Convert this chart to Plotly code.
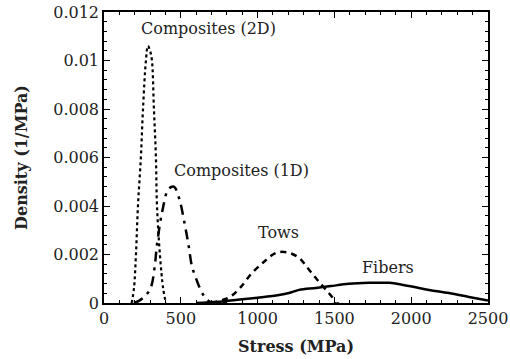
import plotly.graph_objects as go

# Data
comp2d_x = [180, 195, 208, 221, 240, 254, 273, 286, 300, 312, 325, 338, 345, 364, 385, 403]
comp2d_y = [0, 0.0006, 0.002, 0.004, 0.006, 0.008, 0.010, 0.0106, 0.0104, 0.010, 0.008, 0.006, 0.004, 0.002, 0.0006, 0]

comp1d_x = [195, 230, 270, 306, 330, 345, 380, 420, 455, 490, 521, 550, 573, 600, 618, 650, 690, 800]
comp1d_y = [0, 0.0001, 0.0003, 0.00066, 0.0015, 0.0024, 0.0038, 0.0047, 0.0048, 0.0043, 0.0034, 0.0024, 0.0015, 0.0010, 0.0007, 0.0003, 0.00005, 0]

tows_x = [700, 760, 820, 885, 964, 1042, 1100, 1139, 1204, 1270, 1335, 1400, 1465, 1490, 1500, 1550]
tows_y = [0, 0.0001, 0.00025, 0.00062, 0.00124, 0.0017, 0.002, 0.0021, 0.00207, 0.00186, 0.00137, 0.00087, 0.0004, 0.0002, 0.0, 0]

fibers_x = [600, 750, 900, 1000, 1139, 1204, 1270, 1380, 1478, 1595, 1725, 1855, 1986, 2116, 2246, 2376, 2500]
fibers_y = [0, 0.00005, 0.00015, 0.00022, 0.00033, 0.00041, 0.00054, 0.00062, 0.0007, 0.00079, 0.00083, 0.00083, 0.0007, 0.00054, 0.00041, 0.00025, 0.0001]

labels = ["Composites (2D)", "Composites (1D)", "Tows", "Fibers"]
label_x = [683, 892, 1133, 1849]
label_y = [0.01134, 0.00548, 0.00289, 0.00148]

x_ticks = [0, 500, 1000, 1500, 2000, 2500]
y_ticks = [0, 0.002, 0.004, 0.006, 0.008, 0.01, 0.012]
y_ticklabels = ["0", "0.002", "0.004", "0.006", "0.008", "0.01", "0.012"]

FONT = "DejaVu Serif"
TXT = "#222"
fig = go.Figure()
fig.add_trace(go.Scatter(x=comp2d_x, y=comp2d_y, mode="lines", line=dict(color="black", width=2.2, dash="dot"), line_shape="spline"))
fig.add_trace(go.Scatter(x=comp1d_x, y=comp1d_y, mode="lines", line=dict(color="black", width=2.5, dash="10px,6px,3px,6px"), line_shape="spline"))
fig.add_trace(go.Scatter(x=tows_x, y=tows_y, mode="lines", line=dict(color="black", width=2.5, dash="6px,5px"), line_shape="spline"))
fig.add_trace(go.Scatter(x=fibers_x, y=fibers_y, mode="lines", line=dict(color="black", width=2.5), line_shape="spline"))
# invisible trace on the mirrored axes so they render
fig.add_trace(go.Scatter(x=[0], y=[0], xaxis="x2", yaxis="y2", mode="markers",
                         marker=dict(opacity=0), hoverinfo="skip"))

for t, x, y in zip(labels, label_x, label_y):
    fig.add_annotation(x=x, y=y, text=t, showarrow=False, font=dict(family=FONT, size=16, color=TXT))

tick_common = dict(ticks="inside", ticklen=6, tickwidth=1.2, tickcolor="black",
                   showgrid=False, zeroline=False, automargin=False)
xminor = dict(dtick=100, ticks="inside", ticklen=3, tickcolor="black", tickwidth=1)
yminor = dict(dtick=0.0004, ticks="inside", ticklen=3, tickcolor="black", tickwidth=1)

fig.update_layout(
    width=510, height=359, margin=dict(l=104, r=22, t=12, b=56),
    plot_bgcolor="white", paper_bgcolor="white", showlegend=False,
    xaxis=dict(range=[0, 2500], tickvals=x_ticks, minor=xminor,
               showline=True, linecolor="black", linewidth=1.5, mirror=True,
               tickfont=dict(family=FONT, size=16, color=TXT),
               title=dict(text="<b>Stress (MPa)</b>", font=dict(family=FONT, size=16, color=TXT), standoff=14),
               **tick_common),
    yaxis=dict(range=[0, 0.012], tickvals=y_ticks, ticktext=y_ticklabels, minor=yminor,
               showline=True, linecolor="black", linewidth=1.5, mirror=True,
               tickfont=dict(family=FONT, size=16, color=TXT),
               title=dict(text="<b>Density (1/MPa)</b>", font=dict(family=FONT, size=16, color=TXT), standoff=22),
               **tick_common),
    xaxis2=dict(range=[0, 2500], tickvals=x_ticks, minor=xminor, overlaying="x", side="top",
                showticklabels=False, showline=False, **tick_common),
    yaxis2=dict(range=[0, 0.012], tickvals=y_ticks, minor=yminor, overlaying="y", side="right",
                showticklabels=False, showline=False, **tick_common),
)
fig.write_html("out.html")
